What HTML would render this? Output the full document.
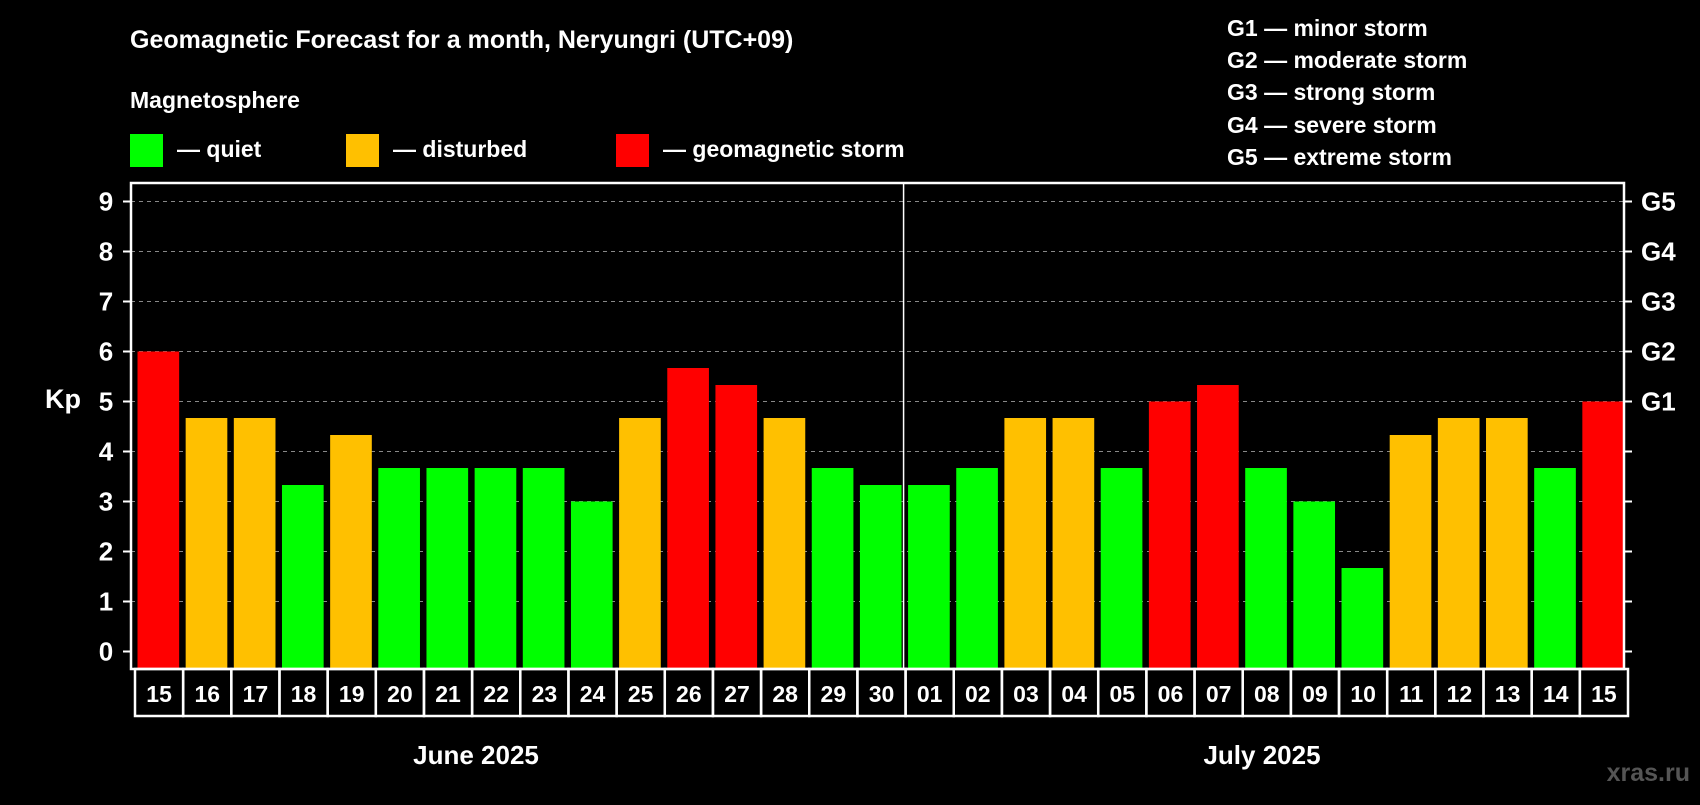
<!DOCTYPE html>
<html><head><meta charset="utf-8"><style>
body{margin:0;background:#000;width:1700px;height:800px;overflow:hidden;font-family:"Liberation Sans",sans-serif;}
svg text{font-family:"Liberation Sans",sans-serif;font-weight:bold;fill:#fff;}
</style></head><body>
<svg id="chart" width="1700" height="800">
<text x="130" y="48" font-size="25">Geomagnetic Forecast for a month, Neryungri (UTC+09)</text>
<text x="130" y="108" font-size="23">Magnetosphere</text>
<rect x="130" y="134" width="33" height="33" fill="#00ff00"/>
<text x="177" y="157" font-size="23">— quiet</text>
<rect x="346" y="134" width="33" height="33" fill="#ffc000"/>
<text x="393" y="157" font-size="23">— disturbed</text>
<rect x="616" y="134" width="33" height="33" fill="#ff0000"/>
<text x="663" y="157" font-size="23">— geomagnetic storm</text>
<g font-size="23">
<text x="1227" y="36">G1 — minor storm</text>
<text x="1227" y="68">G2 — moderate storm</text>
<text x="1227" y="100">G3 — strong storm</text>
<text x="1227" y="133">G4 — severe storm</text>
<text x="1227" y="165">G5 — extreme storm</text>
</g>
<text x="63" y="408" font-size="27" text-anchor="middle">Kp</text>
<text x="476" y="764" font-size="26" text-anchor="middle">June 2025</text>
<text x="1262" y="764" font-size="26" text-anchor="middle">July 2025</text>
<text x="1690" y="781" font-size="25" text-anchor="end" style="fill:#555">xras.ru</text>
<g id="plot"></g>
</svg>
<script>
const days=["15","16","17","18","19","20","21","22","23","24","25","26","27","28","29","30","01","02","03","04","05","06","07","08","09","10","11","12","13","14","15"];
const kp=[6,4.67,4.67,3.33,4.33,3.67,3.67,3.67,3.67,3,4.67,5.67,5.33,4.67,3.67,3.33,3.33,3.67,4.67,4.67,3.67,5,5.33,3.67,3,1.67,4.33,4.67,4.67,3.67,5];
const yTicks=[0,1,2,3,4,5,6,7,8,9];
const gLabels=["G1","G2","G3","G4","G5"];
const gLevels=[5,6,7,8,9];
const NS="http://www.w3.org/2000/svg";
const g=document.getElementById('plot');
const L=131,R=1624,T=183,B=669;
const y=v=>651.5-v*50;
const cw=(R-L)/days.length;
const x=i=>L+i*cw;
function mk(t,a){const e=document.createElementNS(NS,t);for(const k in a)e.setAttribute(k,a[k]);g.appendChild(e);return e;}
yTicks.forEach(v=>{
 if(v>0){const l=mk('line',{x1:L,x2:R,y1:y(v),y2:y(v),stroke:'#888','stroke-dasharray':'4,4','stroke-width':1});
 
 }
 mk('line',{x1:L-8,x2:L,y1:y(v),y2:y(v),stroke:'#fff','stroke-width':2});
 mk('line',{x1:R,x2:R+8,y1:y(v),y2:y(v),stroke:'#fff','stroke-width':2});
 const t=mk('text',{x:106,y:y(v)+9,'font-size':26,'text-anchor':'middle'});t.textContent=v;
 
 
});
gLabels.forEach((s,i)=>{const t=mk('text',{x:1641,y:y(gLevels[i])+9,'font-size':26});t.textContent=s;
 
 });
kp.forEach((v,i)=>{
 const c=v>=5?'#ff0000':(v>=4?'#ffc000':'#00ff00');
 const r=mk('rect',{x:x(i)+6.5,y:y(v),width:cw-6.5,height:B-1-y(v),fill:c});
 
 
 const bx=mk('rect',{x:x(i)+4,y:B,width:cw,height:47,fill:'none',stroke:'#fff','stroke-width':2.5});
 
 
 const t=mk('text',{x:x(i)+4+cw/2,y:B+33,'font-size':23,'text-anchor':'middle'});t.textContent=days[i];
 
 
});
const fr=mk('rect',{x:L,y:T,width:R-L,height:B-T,fill:'none',stroke:'#fff','stroke-width':2.5});


const dv=mk('line',{x1:x(16)+2,x2:x(16)+2,y1:T,y2:B,stroke:'#fff','stroke-width':1.5});


</script>
</body></html>
